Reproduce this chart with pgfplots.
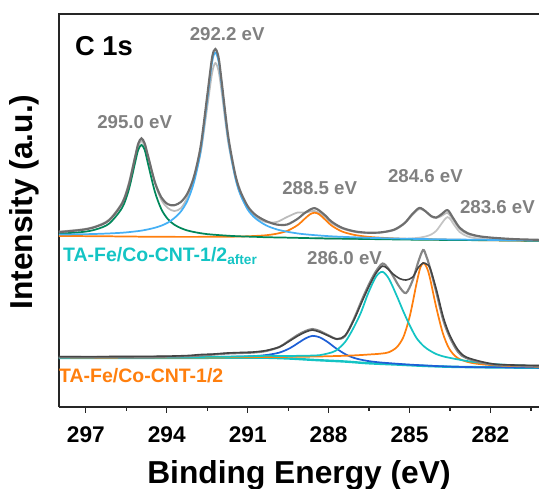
\documentclass[border=0pt]{standalone}
\usepackage{fontspec}
\setmainfont{Liberation Sans}
\usepackage{pgfplots}
\pgfplotsset{compat=1.18}
\protected\def\fs#1{\fontsize{#1}{#1}\selectfont\bfseries}
\definecolor{envU}{HTML}{6E6E6E}
\definecolor{rawU}{HTML}{BBBBBB}
\definecolor{grnC}{HTML}{00875A}
\definecolor{bluC}{HTML}{45B0F5}
\definecolor{orgC}{HTML}{FF7F0E}
\definecolor{lgC}{HTML}{C4C4C4}
\definecolor{bluL}{HTML}{1E5FD6}
\definecolor{cyaC}{HTML}{14C4C4}
\definecolor{envL}{HTML}{858585}
\definecolor{rawL}{HTML}{444444}
\definecolor{lbl}{HTML}{808080}
\begin{document}
\begin{tikzpicture}
\begin{axis}[
    scale only axis, width=360pt, height=294.75pt,
    x dir=reverse, xmin=280.2, xmax=298.0, ymin=0, ymax=393,
    axis line style={draw=none},
    xtick=\empty, ytick=\empty,
    clip=false,
]
\draw[line width=1pt, black!85] (axis cs:298.0,0) -- (axis cs:280.2,0);
\draw[line width=1pt, black!85] (axis cs:298.0,0) -- (axis cs:298.0,393) -- (axis cs:280.2,393);
% x ticks and tick labels
\pgfplotsinvokeforeach{282,285,288,291,294,297}{
  \draw[black!85, line width=0.9pt] (axis cs:#1,0) -- (axis cs:#1,-6);
  \node[font=\fs{17}, anchor=base, inner sep=0] at (axis cs:#1,-35.6) {#1};
}
\pgfplotsinvokeforeach{280.5,283.5,286.5,289.5,292.5,295.5}{
  \draw[black!85, line width=0.9pt] (axis cs:#1,0) -- (axis cs:#1,-3.5);
}

% upper spectrum (after)
\addplot[rawU, line width=1.3pt, smooth] coordinates {
(298.0,175.5)(297.11,177.8)(296.63,180.8)(296.14,187.5)(295.66,204.5)(295.41,224)(295.17,251)(294.94,266)(294.69,250)(294.44,224)(294.2,207)(293.96,199)(293.72,196)(293.47,199)(293.23,210)(292.99,228)(292.74,255)(292.5,300)(292.32,334)(292.2,344)(292.08,336)(291.97,316)(291.73,266)(291.48,232)(291.29,214)(291.0,198)(290.71,190)(290.32,185)(289.93,185)(289.54,190)(289.15,194.5)(288.86,194.5)(288.52,196)(288.18,191)(287.89,184)(287.5,178.5)(287.02,175)(286.53,174)(286.05,174.5)(285.56,177)(285.18,183.5)(284.88,192.5)(284.63,198)(284.4,195.5)(284.2,190.5)(284.01,189)(283.82,191)(283.59,194)(283.38,187)(283.14,178)(282.85,173)(282.46,170.5)(281.97,169)(281.1,167.5)(280.2,167)};
\addplot[lgC, line width=1.3pt, smooth] coordinates {
(288.52,168.5)(287.02,168.1)(286.05,168.0)(285.18,168.3)(284.88,168.7)(284.63,169.4)(284.4,170.6)(284.2,172.5)(284.01,176.2)(283.82,183.1)(283.7,187.5)(283.59,189.9)(283.48,187.6)(283.38,183.4)(283.14,175.0)(282.85,170.6)(282.46,168.5)(281.97,167.5)(281.1,166.7)(280.2,166.3)};
\addplot[orgC, line width=1.3pt, smooth] coordinates {
(298.0,171.1)(296.14,170.7)(294.2,170.2)(292.2,170.2)(291.29,170.5)(290.71,171.1)(290.32,171.8)(289.93,173.3)(289.54,176.1)(289.15,181.9)(288.86,188.9)(288.68,192.9)(288.52,194.3)(288.36,192.9)(288.18,188.7)(287.89,181.5)(287.5,175.5)(287.02,172.0)(286.53,170.2)(286.05,169.3)(285.18,168.2)(284.01,167.6)(282.46,166.9)(280.2,166.2)};
\addplot[grnC, line width=1.3pt, smooth] coordinates {
(298.0,173.3)(297.11,175.1)(296.63,177.6)(296.14,183.4)(295.66,199.1)(295.41,217.2)(295.17,245.0)(295.06,257.1)(294.94,262.1)(294.82,257.1)(294.69,242.5)(294.44,215.1)(294.2,197.7)(293.96,187.9)(293.72,182.3)(293.47,178.8)(293.23,176.5)(292.99,175.0)(292.74,173.8)(292.5,172.9)(292.2,172.2)(291.73,171.3)(291.29,170.7)(290.71,170.2)(290.32,169.8)(289.54,169.4)(288.52,168.8)(287.5,168.4)(286.05,167.8)(284.63,167.3)(283.14,167.0)(281.1,166.5)(280.2,166.2)};
\addplot[bluC, line width=1.3pt, smooth] coordinates {
(298.0,172.5)(297.11,172.8)(296.63,173.1)(296.14,173.6)(295.66,174.3)(295.41,174.9)(295.17,175.6)(294.94,176.4)(294.69,177.7)(294.44,179.3)(294.2,181.4)(293.96,184.4)(293.72,189.0)(293.47,195.8)(293.23,206.6)(292.99,225.0)(292.74,256.8)(292.5,307.3)(292.32,345.0)(292.2,354.4)(292.08,345.5)(291.97,322.9)(291.73,268.9)(291.48,231.7)(291.29,213.7)(291.0,197.5)(290.71,188.6)(290.32,181.7)(289.93,177.7)(289.54,175.3)(289.15,173.6)(288.86,172.7)(288.52,171.9)(288.18,171.2)(287.89,170.7)(287.5,170.2)(287.02,169.7)(286.53,169.2)(286.05,168.9)(285.18,168.3)(284.01,167.8)(282.85,167.4)(281.1,166.8)(280.2,166.5)};
\addplot[envU, line width=1.6pt, smooth] coordinates {
(298.0,174.9)(297.11,177.3)(296.63,180.3)(296.14,186.7)(295.66,203.4)(295.41,222.0)(295.17,250.7)(295.06,263.3)(294.94,268.7)(294.82,263.5)(294.69,250.4)(294.44,224.7)(294.2,209.5)(293.96,202.8)(293.72,201.8)(293.47,205.2)(293.23,213.8)(292.99,230.7)(292.74,261.5)(292.5,311.5)(292.32,349.5)(292.2,358.0)(292.08,349.5)(291.97,326.4)(291.73,272.1)(291.48,234.8)(291.29,216.9)(291.0,200.8)(290.71,192.1)(290.32,186.0)(289.93,182.5)(289.54,182.5)(289.15,188.2)(288.86,194.5)(288.52,198.9)(288.18,192.9)(287.89,185.4)(287.5,179.2)(287.02,175.6)(286.53,174.3)(286.05,174.7)(285.56,177.5)(285.18,184.1)(284.88,193.5)(284.63,199.1)(284.4,195.6)(284.2,191.0)(284.01,189.5)(283.82,192.7)(283.59,196.9)(283.38,188.8)(283.14,179.3)(282.85,173.9)(282.46,171.0)(281.97,169.4)(281.1,167.9)(280.2,167.2)};

% lower spectrum
\addplot[cyaC, line width=1.8pt, smooth] coordinates {
(298.0,49)(291.29,49.3)(290.32,49.3)(289.44,48.5)(288.48,47)(287.39,45.5)(286.53,43.8)(285.47,42.5)(284.5,41.2)(283.53,40.3)(282.38,39.8)(280.2,39.3)};
\addplot[bluL, line width=1.3pt, smooth] coordinates {
(298.0,49.1)(296.14,49.5)(294.2,49.7)(292.26,50.1)(291.29,50.5)(290.8,50.9)(290.32,52)(289.83,54.4)(289.44,58.8)(289.15,63.7)(288.86,68.6)(288.6,71.2)(288.33,69.7)(288.03,64.9)(287.74,59)(287.39,53)(287.1,49.5)(286.81,47.4)(286.53,46)(286.24,45)(286.0,44.4)(285.76,43.9)(285.47,43.3)(284.98,42.4)(284.5,41.7)(284.01,41)(283.53,40.5)(282.86,40)(281.61,39.7)(280.2,39.4)};
\addplot[orgC, line width=1.3pt, smooth] coordinates {
(298.0,49.3)(296.14,49.4)(294.2,49.5)(292.26,49.6)(291.29,49.8)(290.32,50)(289.44,50.2)(288.48,50.5)(287.74,51)(287.39,51.3)(287.1,51.6)(286.81,52)(286.53,52.5)(286.24,53)(286.0,53.6)(285.76,54.9)(285.47,59.9)(285.22,70.5)(284.98,92.1)(284.74,123.6)(284.6,139.5)(284.48,144)(284.36,139.5)(284.25,129.8)(284.01,99.8)(283.77,74.3)(283.53,58.4)(283.24,49.5)(282.86,45.2)(282.38,42.9)(281.61,41.4)(280.2,40.3)};
\addplot[cyaC, line width=1.3pt, smooth] coordinates {
(298.0,49.3)(296.14,49.8)(294.2,50.1)(292.26,50.2)(291.29,50.6)(290.8,50.9)(290.32,51.2)(289.83,51.1)(289.44,51.1)(289.15,51.2)(288.86,51.3)(288.6,51.5)(288.33,51.9)(288.03,53.6)(287.74,56.3)(287.39,65)(287.1,78)(286.81,94)(286.53,114)(286.24,130.5)(286.0,135.2)(285.76,128)(285.47,111)(285.22,95)(284.98,81)(284.74,69)(284.48,61)(284.25,56.5)(284.01,53)(283.77,50.8)(283.53,49.3)(283.24,47.8)(282.86,46)(282.38,44.3)(281.61,42.5)(280.2,40.8)};
\addplot[envL, line width=1.6pt, smooth] coordinates {
(298.0,50)(296.14,50)(294.2,50.3)(293.23,50.8)(292.74,51.5)(292.26,52.5)(291.77,53.5)(291.29,54)(290.8,54.5)(290.32,56)(289.83,60)(289.54,65)(289.15,72)(288.86,76)(288.6,78)(288.33,76)(288.03,72)(287.69,68)(287.39,71)(287.08,87)(286.72,110)(286.48,124)(286.24,136)(286.0,143.5)(285.8,139)(285.61,131)(285.37,120)(285.13,114)(284.88,127)(284.69,144)(284.5,157)(284.38,151)(284.24,139)(284.0,114)(283.75,87)(283.51,70)(283.2,55)(282.9,49)(282.27,44)(281.66,42)(280.2,41)};
\addplot[rawL, line width=1.2pt, smooth] coordinates {
(298.0,50.5)(296.14,50.5)(294.2,50.8)(293.23,51.5)(292.74,52.5)(292.26,53)(291.77,54)(291.29,54.5)(290.8,55)(290.32,56.5)(289.83,60)(289.54,64.5)(289.15,71)(288.86,75)(288.6,77)(288.33,75)(288.03,71.5)(287.69,68)(287.39,71.5)(287.08,86)(286.72,108)(286.48,122)(286.24,134)(286.0,141)(285.8,138)(285.61,133)(285.37,128.5)(285.13,127)(284.88,130)(284.69,139)(284.5,144)(284.38,143)(284.24,139)(284.0,117)(283.75,90)(283.51,72)(283.2,57)(282.9,50)(282.27,45)(281.66,42.5)(280.2,41.5)};

% labels
\node[font=\fs{20.5}, anchor=base west, inner sep=0] at (axis cs:297.41,352) {C 1s};
\node[text=lbl, font=\fs{14}, inner sep=0] at (axis cs:295.19,285) {295.0 eV};
\node[text=lbl, font=\fs{14}, inner sep=0] at (axis cs:291.76,373) {292.2 eV};
\node[text=lbl, font=\fs{14}, inner sep=0] at (axis cs:288.33,219) {288.5 eV};
\node[text=lbl, font=\fs{14}, inner sep=0] at (axis cs:284.41,231) {284.6 eV};
\node[text=lbl, font=\fs{14}, inner sep=0] at (axis cs:281.74,200) {283.6 eV};
\node[text=lbl, font=\fs{14}, inner sep=0] at (axis cs:287.41,149) {286.0 eV};
\node[text=cyaC, font=\fs{14.6}, anchor=base west, inner sep=0] at (axis cs:297.85,146) {TA-Fe/Co-CNT-1/2\textsubscript{after}};
\node[text=orgC, font=\fs{14.6}, anchor=base west, inner sep=0] at (axis cs:298.0,25) {TA-Fe/Co-CNT-1/2};
\node[font=\fs{23.8}, anchor=base, inner sep=0] at (axis cs:289.1,-76) {Binding Energy (eV)};
\node[font=\fs{23.8}, rotate=90, inner sep=0] at (axis cs:299.3,205) {Intensity (a.u.)};

\coordinate (bl) at (axis cs:300.185,-81);
\coordinate (tr) at (axis cs:280.2,407);
\end{axis}
\pgfresetboundingbox
\useasboundingbox (bl) rectangle (tr);
\end{tikzpicture}
\end{document}
